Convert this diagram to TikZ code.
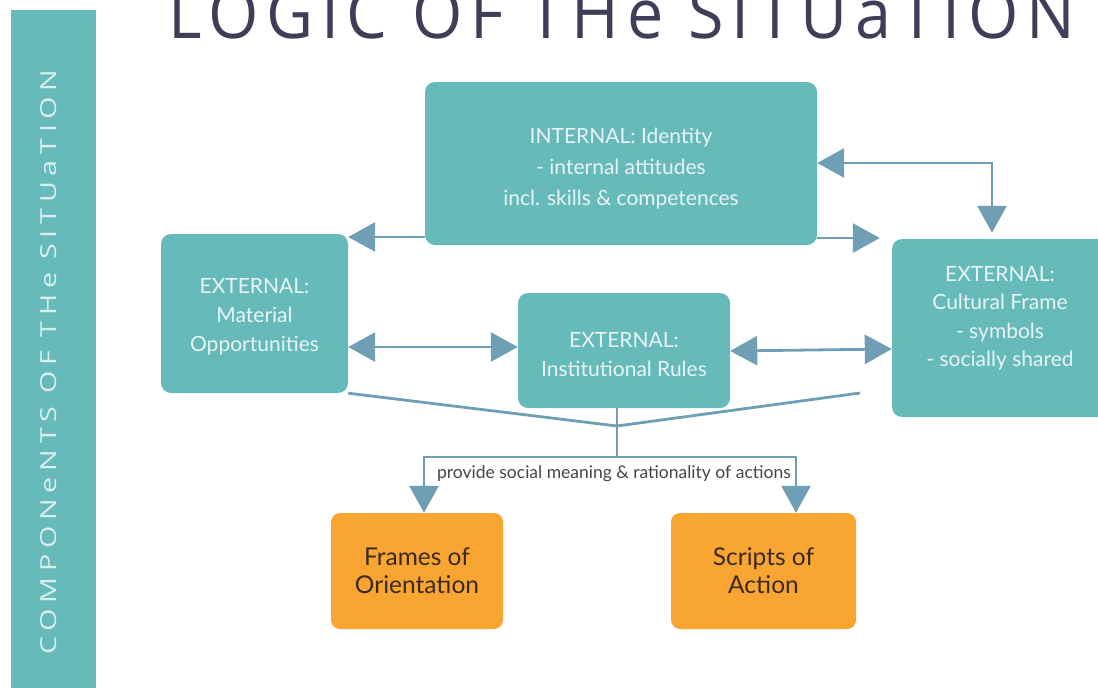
\documentclass[tikz,border=0pt]{standalone}
\usepackage{fontspec}
\setmainfont{Lato}
\newfontfamily\sidefont[LetterSpace=20]{Open Sans}
\newfontfamily\titlefont[LetterSpace=12]{Open Sans}
\usetikzlibrary{arrows.meta,calc}
\definecolor{tealbox}{HTML}{66BAB9}
\definecolor{boxtext}{HTML}{E8F5F4}
\definecolor{arrowc}{HTML}{6E9FB4}
\definecolor{orangebox}{HTML}{F9A532}
\definecolor{darktext}{HTML}{3A2A1E}
\definecolor{titlec}{HTML}{3D3F58}
\definecolor{labelc}{HTML}{454545}
\definecolor{sidetext}{HTML}{D9EFEE}
\newcommand{\topstrut}[1]{\rule{0pt}{#1}}
\tikzset{
  tbox/.style={fill=tealbox, rounded corners=10pt, text=boxtext, align=center,
    font=\fontsize{21}{29}\selectfont, inner sep=0pt},
  obox/.style={fill=orangebox, rounded corners=9pt, text=darktext, align=center,
    font=\fontsize{24.5}{28}\selectfont, inner sep=0pt, minimum height=116pt},
  conn/.style={draw=arrowc, line width=2.8pt},
  arr/.style={conn, -{Triangle[length=27pt,width=29pt]}},
  darr/.style={conn, {Triangle[length=27pt,width=29pt]}-{Triangle[length=27pt,width=29pt]}},
}
\begin{document}
\begin{tikzpicture}[x=1pt,y=-1pt]
\useasboundingbox (0,0) rectangle (1098,688);
% sidebar
\fill[tealbox] (11,10) rectangle (96,700);
\node[rotate=90, text=sidetext, inner sep=0pt] (side) at (49,362)
  {\resizebox{585pt}{16pt}{\sidefont\fontsize{23}{23}\selectfont COMPONeNTS OF THe SITUaTION}};
% title
\node[anchor=base west, inner sep=0pt, text=titlec] (title) at (168,38)
  {\resizebox{907pt}{50pt}{\titlefont LOGIC OF THe SITUaTION}};
% boxes
\node[tbox, minimum width=392pt, minimum height=163pt, font=\fontsize{21}{31}\selectfont] (internal) at (621,163.5)
  {\topstrut{25pt}INTERNAL: Identity\\- internal attitudes\\incl. skills \& competences};
\node[tbox, minimum width=187pt, minimum height=159pt] (material) at (254.5,313.5)
  {\topstrut{21pt}EXTERNAL:\\Material\\Opportunities};
\node[tbox, minimum width=212pt, minimum height=115pt] (inst) at (624,350.5)
  {\topstrut{23pt}EXTERNAL:\\Institutional Rules};
\node[tbox, minimum width=220pt, minimum height=178pt] (cult) at (1002,328) {};
\node[text=boxtext, align=center, font=\fontsize{21}{28.5}\selectfont, inner sep=0pt] (culttext) at (1000,318.5)
  {EXTERNAL:\\Cultural Frame\\ - symbols\\ - socially shared};
\node[obox, minimum width=172pt] (frames) at (417,571) {Frames of\\Orientation};
\node[obox, minimum width=185pt] (scripts) at (763.5,571) {Scripts of\\Action};
% coordinates
\coordinate (loopc) at (992,163);
\coordinate (m) at (617,426);
\coordinate (c1) at (860,393);
\coordinate (s) at (617,457);
\coordinate (sl) at (424,457);
\coordinate (sr) at (796,457);
% connectors
\draw[arr] (internal.west |- 0,237) -- (material.east |- 0,237);
\draw[arr, shorten >=12pt] (internal.east |- 0,238) -- (cult.west |- 0,238);
\draw[darr, shorten >=6pt] (internal.east |- loopc) -- (loopc) -- (loopc |- cult.north);
\draw[darr] (material.east |- 0,347) -- (inst.west |- 0,347);
\draw[darr] (inst.east |- 0,351) -- (cult.west |- 0,349);
\draw[conn] (material.south east) -- (m) -- (c1);
\draw[conn] (inst.south -| m) -- (s);
\draw[arr] (s) -- (sl) -- (frames.north -| sl);
\draw[arr] (s) -- (sr) -- (scripts.north -| sr);
\node[text=labelc, font=\fontsize{17.5}{17.5}\selectfont, inner sep=0pt] (lbl) at (614,474)
  {provide social meaning \& rationality of actions};
\end{tikzpicture}
\end{document}
